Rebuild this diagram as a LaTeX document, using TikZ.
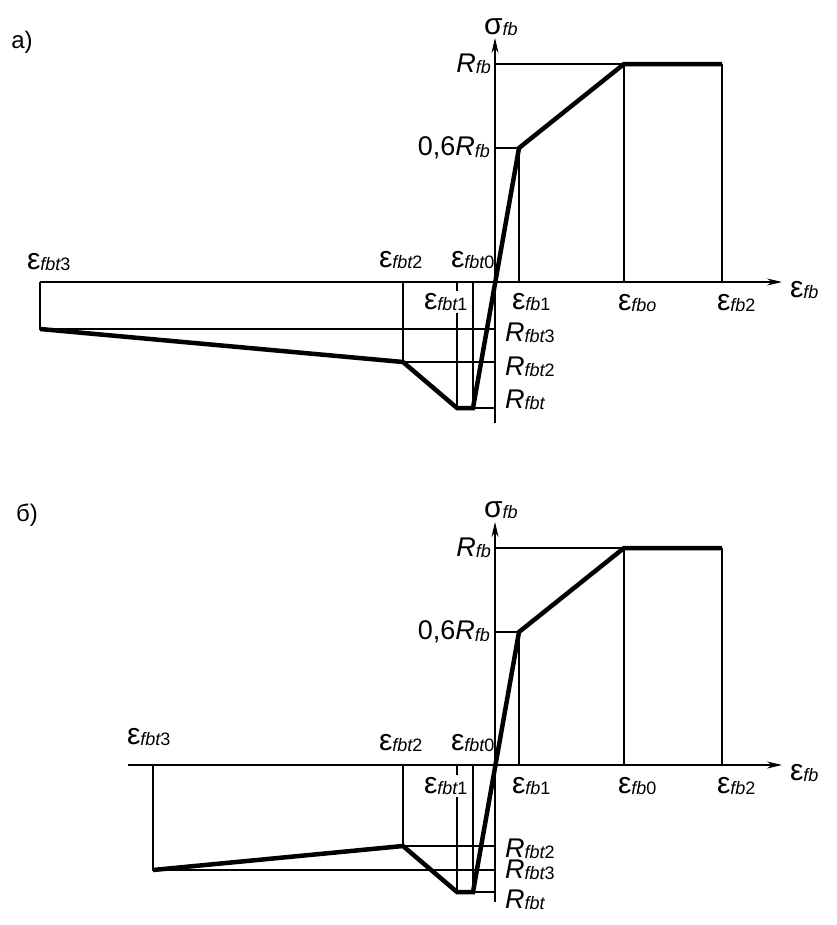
\documentclass[tikz,border=0pt]{standalone}
\usepackage{fontspec}
\setmainfont{Liberation Sans}
\usetikzlibrary{arrows.meta}
\newcommand{\bigfnt}{\fontsize{30bp}{32bp}\selectfont}
\newcommand{\mainfnt}{\fontsize{27bp}{30bp}\selectfont}
\newcommand{\tagfnt}{\fontsize{24bp}{28bp}\selectfont}
\newcommand{\subfnt}{\fontsize{18bp}{20bp}\selectfont}
\newcommand{\epsl}[2]{{\bigfnt ε}\raisebox{-1.5bp}{\subfnt\itshape #1\upshape #2}}
\newcommand{\Rl}[2]{{\mainfnt\itshape R}\raisebox{-1.5bp}{\subfnt\itshape #1\upshape #2}}
\tikzset{
  thin line/.style={line width=1.1bp},
  axis line/.style={line width=1.3bp,-{Stealth[length=15bp,width=7bp]}},
  curve line/.style={line width=4.5bp,line join=miter},
  lbl/.style={inner sep=0pt,outer sep=0pt},
  lblw/.style={lbl,fill=white,inner ysep=2bp},
}
\begin{document}
\begin{tikzpicture}[x=1bp,y=-1bp]
\useasboundingbox (0,0) rectangle (837,925);
% ===================== a) =====================
\node[lbl] (la) at (22,42) {\tagfnt a)};
% thin lines
\draw[thin line] (495,64) -- (624,64);
\draw[thin line] (495,148) -- (519,148);
\draw[thin line] (519,148) -- (519,282);
\draw[thin line] (624,64) -- (624,282);
\draw[thin line] (722,64) -- (722,282);
\draw[thin line] (40,282) -- (40,329) -- (495,329);
\draw[thin line] (403,282) -- (403,362) -- (495,362);
\draw[thin line] (457,282) -- (457,408);
\draw[thin line] (473,282) -- (473,408) -- (495,408);
% axes
\draw[axis line] (40,282) -- (782,282);
\draw[axis line] (495,423) -- (495,38);
% curve
\draw[curve line] (40,329) -- (403,362) -- (457,408) -- (473,408) -- (519,148) -- (624,64) -- (722,64);
% labels
\node[lbl,anchor=west] (sa) at (484,27) {{\bigfnt σ}\raisebox{-1.5bp}{\subfnt\itshape fb}};
\node[lbl,anchor=east] (rfba) at (491,64) {\Rl{fb}{}};
\node[lbl,anchor=east] (r06a) at (490,148) {{\mainfnt 0,6}\Rl{fb}{}};
\node[lbl,anchor=west] (e3a) at (27,262) {\epsl{fbt}{3}};
\node[lbl,anchor=west] (e2a) at (379,260) {\epsl{fbt}{2}};
\node[lbl,anchor=west] (e0a) at (451,260) {\epsl{fbt}{0}};
\node[lblw,anchor=west] (e1a) at (424,302) {\epsl{fbt}{1}};
\node[lbl,anchor=west] (eb1a) at (512,302) {\epsl{fb}{1}};
\node[lbl,anchor=west] (ebo) at (618,303) {\epsl{fbo}{}};
\node[lbl,anchor=west] (eb2a) at (717,303) {\epsl{fb}{2}};
\node[lbl,anchor=west] (eba) at (790,290) {\epsl{fb}{}};
\node[lbl,anchor=west] (rt3a) at (505,333) {\Rl{fbt}{3}};
\node[lbl,anchor=west] (rt2a) at (505,367) {\Rl{fbt}{2}};
\node[lbl,anchor=west] (rta) at (505,400) {\Rl{fbt}{}};
% ===================== b) =====================
\node[lbl] (lb) at (27,515) {\tagfnt б)};
\draw[thin line] (495,548) -- (624,548);
\draw[thin line] (495,632) -- (519,632);
\draw[thin line] (519,632) -- (519,765);
\draw[thin line] (624,548) -- (624,765);
\draw[thin line] (722,548) -- (722,765);
\draw[thin line] (153,765) -- (153,870) -- (495,870);
\draw[thin line] (403,765) -- (403,846) -- (495,846);
\draw[thin line] (457,765) -- (457,892);
\draw[thin line] (473,765) -- (473,892) -- (495,892);
\draw[axis line] (128,765) -- (782,765);
\draw[axis line] (495,902) -- (495,522);
\draw[curve line] (153,870) -- (403,846) -- (457,892) -- (473,892) -- (519,632) -- (624,548) -- (722,548);
\node[lbl,anchor=west] (sb) at (484,510) {{\bigfnt σ}\raisebox{-1.5bp}{\subfnt\itshape fb}};
\node[lbl,anchor=east] (rfbb) at (491,548) {\Rl{fb}{}};
\node[lbl,anchor=east] (r06b) at (490,632) {{\mainfnt 0,6}\Rl{fb}{}};
\node[lbl,anchor=west] (e3b) at (127,737) {\epsl{fbt}{3}};
\node[lbl,anchor=west] (e2b) at (379,743) {\epsl{fbt}{2}};
\node[lbl,anchor=west] (e0b) at (451,743) {\epsl{fbt}{0}};
\node[lblw,anchor=west] (e1b) at (424,786) {\epsl{fbt}{1}};
\node[lbl,anchor=west] (eb1b) at (512,786) {\epsl{fb}{1}};
\node[lbl,anchor=west] (eb0b) at (618,786) {\epsl{fb}{0}};
\node[lbl,anchor=west] (eb2b) at (717,786) {\epsl{fb}{2}};
\node[lbl,anchor=west] (ebb) at (790,773) {\epsl{fb}{}};
\node[lbl,anchor=west] (rt2b) at (505,849) {\Rl{fbt}{2}};
\node[lbl,anchor=west] (rt3b) at (505,870) {\Rl{fbt}{3}};
\node[lbl,anchor=west] (rtb) at (505,900) {\Rl{fbt}{}};
\end{tikzpicture}
\end{document}
